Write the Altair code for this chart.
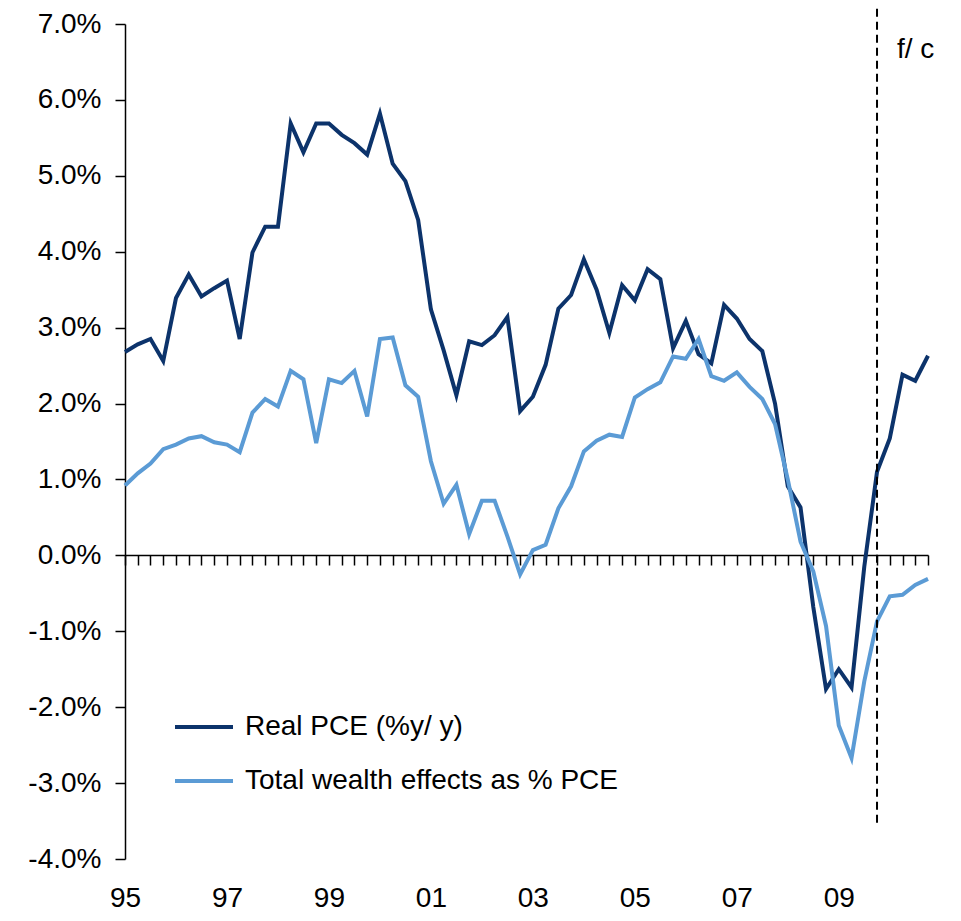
import altair as alt
import pandas as pd

# ---- data (quarterly, 1995Q1 .. 2010Q4) ----
quarters = [f"{y}Q{q}" for y in range(1995, 2011) for q in range(1, 5)]

real_pce = [2.68, 2.78, 2.85, 2.56, 3.39, 3.70, 3.41, 3.52, 3.62, 2.85,
            3.99, 4.33, 4.33, 5.69, 5.31, 5.69, 5.69, 5.54, 5.43, 5.28,
            5.82, 5.16, 4.93, 4.42, 3.24, 2.70, 2.11, 2.82, 2.77, 2.90,
            3.14, 1.90, 2.09, 2.51, 3.25, 3.43, 3.90, 3.50, 2.93, 3.56,
            3.36, 3.77, 3.64, 2.73, 3.09, 2.65, 2.53, 3.30, 3.12, 2.85,
            2.69, 2.00, 0.91, 0.63, -0.68, -1.76, -1.50, -1.74, -0.15, 1.10,
            1.54, 2.38, 2.30, 2.63]

wealth_effects = [0.92, 1.08, 1.21, 1.40, 1.46, 1.54, 1.57, 1.49, 1.46, 1.36,
                  1.88, 2.06, 1.96, 2.43, 2.32, 1.48, 2.32, 2.27, 2.43, 1.83,
                  2.85, 2.87, 2.24, 2.09, 1.24, 0.68, 0.93, 0.28, 0.72, 0.72,
                  0.25, -0.25, 0.07, 0.14, 0.62, 0.91, 1.37, 1.51, 1.59, 1.56,
                  2.08, 2.19, 2.28, 2.62, 2.59, 2.85, 2.36, 2.30, 2.41, 2.22,
                  2.06, 1.73, 1.00, 0.18, -0.21, -0.93, -2.24, -2.67, -1.66, -0.87,
                  -0.54, -0.52, -0.39, -0.31]

series_names = ["Real PCE (%y/ y)", "Total wealth effects as % PCE"]
series_colors = ["#0c336b", "#5b9bd5"]

year_labels = ["95", "97", "99", "01", "03", "05", "07", "09"]
year_label_quarters = ["1995Q1", "1997Q1", "1999Q1", "2001Q1",
                       "2003Q1", "2005Q1", "2007Q1", "2009Q1"]

y_ticks = [-4, -3, -2, -1, 0, 1, 2, 3, 4, 5, 6, 7]

forecast_quarter = "2009Q4"
forecast_label = "f/ c"
forecast_line_top = 7.2
forecast_line_bottom = -3.57
forecast_label_y = 6.66

FONT = "Liberation Sans"

# ---- tables ----
rows = []
for i, q in enumerate(quarters):
    rows.append({"idx": i, "quarter": q, "series": series_names[0], "value": real_pce[i]})
    rows.append({"idx": i, "quarter": q, "series": series_names[1], "value": wealth_effects[i]})
df = pd.DataFrame(rows)

fc_idx = quarters.index(forecast_quarter)
df_fc = pd.DataFrame([{"idx": fc_idx, "value": forecast_line_top,
                       "value2": forecast_line_bottom, "label": forecast_label}])
df_fc_text = pd.DataFrame([{"idx": fc_idx, "value": forecast_label_y,
                            "label": forecast_label}])

label_expr = "''"
for lab, q in reversed(list(zip(year_labels, year_label_quarters))):
    label_expr = f"datum.value == {quarters.index(q)} ? '{lab}' : ({label_expr})"

x_scale = alt.Scale(domain=[0, len(quarters) - 1], nice=False, zero=False)
y_scale = alt.Scale(domain=[-4, 7], nice=False, zero=False)

x_axis = alt.Axis(
    orient="bottom", offset=-304, values=list(range(len(quarters))),
    tickSize=10, tickColor="black", tickWidth=1.5,
    domainColor="black", domainWidth=1.5,
    labelExpr=label_expr, labelPadding=319, labelFontSize=28, labelFont=FONT,
    labelColor="black", labelOverlap=False, labelFlush=False, grid=False, title=None,
)
y_axis = alt.Axis(
    values=y_ticks, tickSize=10, tickColor="black", tickWidth=1.5,
    domainColor="black", domainWidth=1.5,
    labelExpr="(datum.value < 0 ? '-' : '') + format(abs(datum.value), '.1f') + '%'",
    labelPadding=14,
    labelFontSize=28, labelFont=FONT, labelColor="black", grid=False, title=None,
)

X = alt.X("idx:Q", scale=x_scale, axis=x_axis)
Y = alt.Y("value:Q", scale=y_scale, axis=y_axis)

lines = alt.Chart(df).mark_line(strokeWidth=4).encode(
    x=X,
    y=Y,
    color=alt.Color(
        "series:N",
        scale=alt.Scale(domain=series_names, range=series_colors),
        legend=alt.Legend(
            orient="none", legendX=48, legendY=672, title=None,
            symbolType="stroke", symbolSize=3364, symbolStrokeWidth=4,
            labelFontSize=28, labelFont=FONT, labelColor="black",
            labelOffset=10, rowPadding=9, labelLimit=600,
        ),
    ),
    order="idx:Q",
)

fc_rule = alt.Chart(df_fc).mark_rule(color="black", strokeWidth=2, strokeDash=[8, 5]).encode(
    x=X, y=Y, y2="value2:Q",
)

fc_text = alt.Chart(df_fc_text).mark_text(
    align="left", baseline="middle", dx=20, fontSize=28, font=FONT, color="black"
).encode(
    x=X, y=Y, text="label:N",
)

chart = alt.layer(lines, fc_rule, fc_text).properties(
    width=803, height=835,
    autosize=alt.AutoSizeParams(type="none"),
    padding={"left": 117, "top": 16, "right": 25, "bottom": 59},
    background="white",
).configure_view(stroke=None)

chart.save("out.html", embed_options={"renderer": "svg", "actions": False})
